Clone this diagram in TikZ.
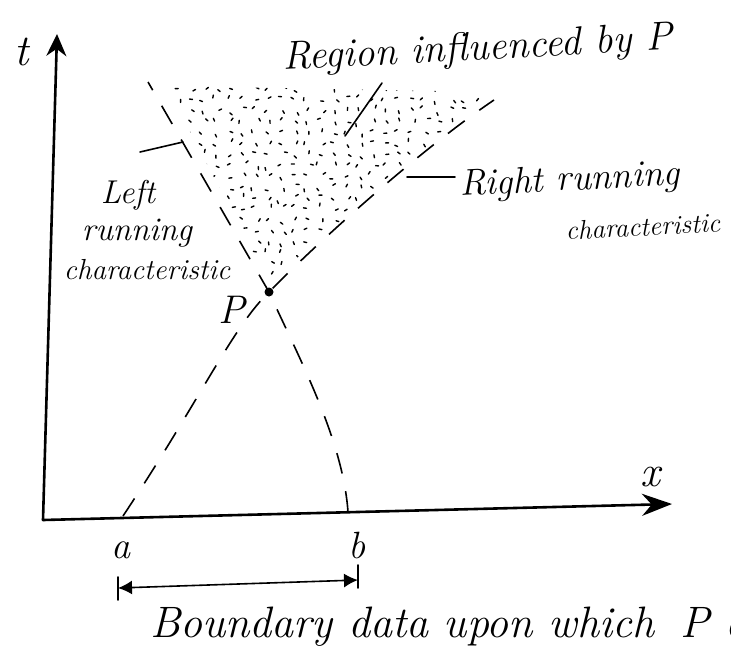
\documentclass[tikz,border=0pt]{standalone}
\usetikzlibrary{arrows.meta,calc}
\begin{document}
\begin{tikzpicture}[x=1pt,y=-1pt,
  lbl/.style={inner sep=0pt,font=\itshape},
  axisline/.style={line width=2.6pt,line cap=round},
  charline/.style={line width=1.6pt,dash pattern=on 21pt off 18pt},
  dotmark/.style={line width=1.4pt,line cap=round},
  lead/.style={line width=1.6pt,line cap=round}]
\path[clip] (0,0) rectangle (731,665);
% coordinates
\coordinate (O) at (43,520);
\coordinate (Ttop) at (57,34);
\coordinate (Xend) at (672,504);
\coordinate (P) at (269,292);
\coordinate (aR) at (123,516);
\coordinate (bL) at (348,512);
\coordinate (TLend) at (148,82);
\coordinate (TRend) at (494,100);
% dotted region
\pgfmathsetseed{7}
\begin{scope}
\clip (269,282) -- (166,86) -- (490,92) -- cycle;
\foreach \yy in {88,99,...,282}{
  \foreach \xx in {164,177,...,496}{
    \pgfmathsetmacro\dx{\xx+4*rand}
    \pgfmathsetmacro\dy{\yy+3*rand}
    \pgfmathsetmacro\an{90*rand}
    \draw[dotmark] (\dx,\dy) -- ++(\an:3);
  }}
\end{scope}
% axes
\draw[axisline,-{Stealth[length=22pt,width=20pt]}] (O) -- (Ttop);
\draw[axisline,-{Stealth[length=30pt,width=22pt]}] (O) -- (Xend);
% characteristics
\draw[charline] (bL) .. controls (343,440) and (300,360) .. (P) -- (TLend);
\draw[charline] (aR) .. controls (200,400) and (232,328) .. (P) .. controls (320,240) and (420,150) .. (TRend);
\fill (P) circle (4.5pt);
% leader lines
\coordinate (rg1) at (382,83);
\coordinate (rg2) at (345,136);
\draw[lead] (rg1) -- (rg2);
\coordinate (lf1) at (140,152);
\coordinate (lf2) at (183,142);
\draw[lead] (lf1) -- (lf2);
\coordinate (rt1) at (407,177);
\coordinate (rt2) at (455,177);
\draw[lead] (rt1) -- (rt2);
% interval
\coordinate (A1) at (118,588);
\coordinate (B1) at (358,580);
\draw[lead,{Latex[length=14pt,width=14pt]}-{Latex[length=14pt,width=14pt]}] (A1) -- (B1);
\draw[lead] ($(A1)+(0,-11)$) -- ($(A1)+(0,12)$);
\draw[lead] ($(B1)+(0,-15)$) -- ($(B1)+(0,8)$);
% labels
\node[lbl,font=\itshape\fontsize{44}{48}\selectfont] (tl) at (22,52) {t};
\node[lbl,font=\itshape\fontsize{44}{48}\selectfont] (xl) at (650,477) {x};
\node[lbl,anchor=base west,rotate=3,font=\itshape\fontsize{40}{44}\selectfont] (reg) at (283,70) {Region influenced by P};
\node[lbl,anchor=base,font=\itshape\fontsize{33}{36}\selectfont] (lt1) at (128,203) {Left};
\node[lbl,anchor=base,font=\itshape\fontsize{33}{36}\selectfont] (lt2) at (137,240) {running};
\node[lbl,anchor=base,font=\itshape\fontsize{29}{32}\selectfont] (lt3) at (147,279) {characteristic};
\node[lbl,anchor=base west,rotate=3,font=\itshape\fontsize{37}{40}\selectfont] (rt1l) at (460,196) {Right running};
\node[lbl,anchor=base west,rotate=3,font=\itshape\fontsize{27}{30}\selectfont] (rt2l) at (566,240) {characteristic};
\node[lbl,font=\itshape\fontsize{40}{44}\selectfont] (pl) at (232,310) {P};
\node[lbl,font=\itshape\fontsize{38}{42}\selectfont] (al) at (121,550) {a};
\node[lbl,font=\itshape\fontsize{38}{42}\selectfont] (bl) at (357,545) {b};
\node[lbl,anchor=base west,font=\itshape\fontsize{44}{48}\selectfont] (bd) at (150,637) {Boundary data upon which\hspace{0.6em}P depends};
\end{tikzpicture}
\end{document}
